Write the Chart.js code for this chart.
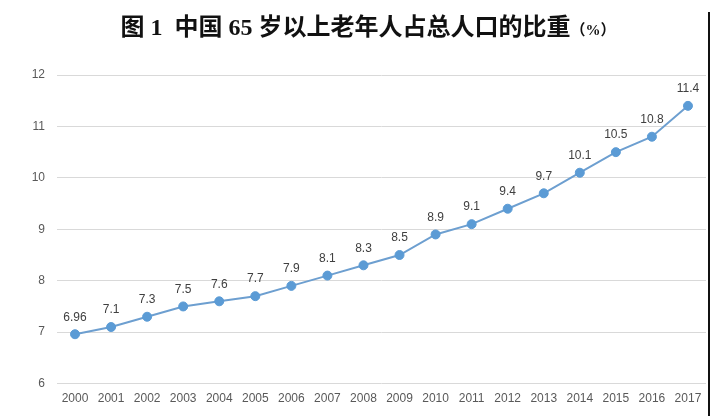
<!DOCTYPE html>
<html><head><meta charset="utf-8">
<script src="https://cdn.jsdelivr.net/npm/chart.js@4/dist/chart.umd.min.js"></script>
<style>
html,body{margin:0;padding:0;background:#fff;}
#wrap{position:relative;width:722px;height:416px;overflow:hidden;}
#title{position:absolute;left:0;top:7px;width:736px;text-align:center;font-family:"Liberation Serif","Noto Sans CJK SC",serif;font-weight:bold;font-size:24px;color:#111;white-space:nowrap;}
#title .u{font-size:15px;}
#edge{position:absolute;left:708px;top:12px;width:2px;height:404px;background:#111;}
canvas{position:absolute;left:0;top:0;}
</style></head>
<body><div id="wrap">
<canvas id="c" width="722" height="416"></canvas>
<div id="title">图 1&nbsp; 中国 65 岁以上老年人占总人口的比重<span class="u">（%）</span></div>
<div id="edge"></div>
</div>
<script>
const years = ["2000","2001","2002","2003","2004","2005","2006","2007","2008","2009","2010","2011","2012","2013","2014","2015","2016","2017"];
const share = [6.96,7.1,7.3,7.5,7.6,7.7,7.9,8.1,8.3,8.5,8.9,9.1,9.4,9.7,10.1,10.5,10.8,11.4];
const valueLabels = ["6.96","7.1","7.3","7.5","7.6","7.7","7.9","8.1","8.3","8.5","8.9","9.1","9.4","9.7","10.1","10.5","10.8","11.4"];
const tickFont = {family:'"Liberation Sans",sans-serif', size:12};

const labelPlugin = {
  id:'vlabels',
  afterDatasetsDraw(chart){
    const ctx = chart.ctx;
    const meta = chart.getDatasetMeta(0);
    ctx.save();
    ctx.font = '12px "Liberation Sans",sans-serif';
    ctx.fillStyle = '#404040';
    ctx.textAlign = 'center';
    ctx.textBaseline = 'bottom';
    meta.data.forEach((pt,i)=>{
      ctx.fillText(valueLabels[i], pt.x, pt.y - 11);
    });
    ctx.restore();
  }
};

new Chart(document.getElementById('c'), {
  type:'line',
  data:{labels:years, datasets:[{
    data:share,
    borderColor:'#6d9fd0',
    borderWidth:2,
    pointRadius:4.5,
    pointBackgroundColor:'#5b9bd5',
    pointBorderColor:'#5b9bd5',
    pointBorderWidth:1,
    tension:0
  }]},
  options:{
    responsive:false, animation:false, devicePixelRatio:1,
    layout:{padding:{top:75,left:0,right:16,bottom:10}},
    plugins:{legend:{display:false}, title:{display:false}, tooltip:{enabled:false}},
    scales:{
      x:{offset:true, grid:{display:false}, border:{display:false},
         ticks:{color:'#595959', font:tickFont, padding:0, maxRotation:0, autoSkip:false}},
      y:{min:6,max:12, border:{display:false},
         grid:{color:'#d9d9d9', lineWidth:1, drawTicks:false},
         ticks:{stepSize:1, color:'#595959', font:tickFont, padding:12},
         afterFit(s){ s.width = 57; }}
    }
  },
  plugins:[labelPlugin]
});
</script>
</body></html>
